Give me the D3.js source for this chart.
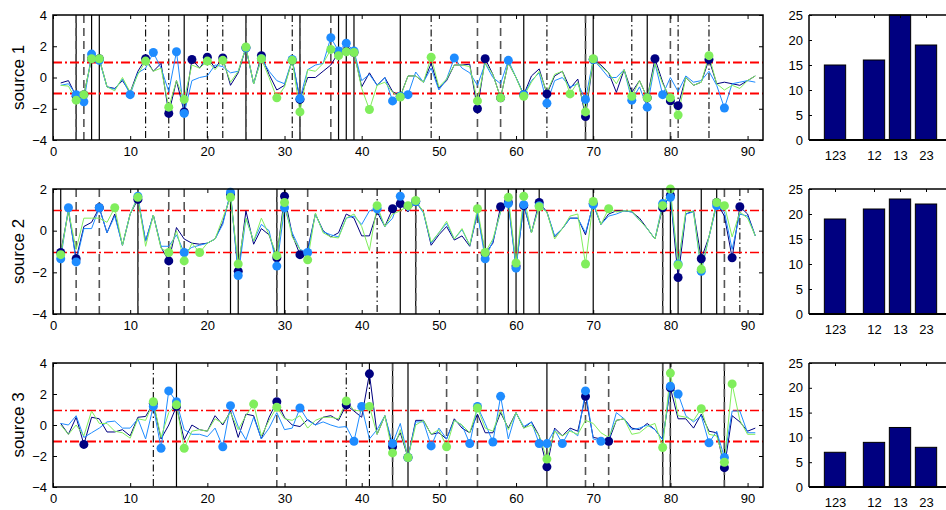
<!DOCTYPE html>
<html>
<head>
<meta charset="utf-8">
<script src="https://cdn.jsdelivr.net/npm/d3@7"></script>
<style>
body { margin: 0; background: #fff; }
svg { display: block; font-family: "Liberation Sans", Arial, sans-serif; }
</style>
</head>
<body>
<script>
const w = 946;
const h = 510;

// ---- data, x = 1..91 ----
const s1Dark = [-0.35,-0.2,-1.2,-1.1,1.2,1.2,-0.6,-0.7,-0.2,-0.95,0.4,1.2,0.4,0.9,-2.3,-0.2,-2.2,1.15,0.6,1.3,0.6,1.25,-0.5,0.3,1.9,-0.4,1.4,0.2,-0.8,-0.5,1.1,-1.4,0.0,0.0,0.4,0.8,1.6,1.7,1.6,-0.6,0.3,-0.5,0.0,-0.9,-1.2,0.1,0.1,-0.3,0.9,-0.7,-0.2,0.8,0.8,0.85,-2.0,1.2,0.2,-1.3,0.95,0.0,-1.1,0.1,0.55,-1.05,0.1,0.4,-0.7,-0.1,-2.5,1.15,0.8,0.3,-0.95,0.5,-0.95,-0.2,-1.3,1.2,-0.3,-1.5,-1.8,0.0,-0.5,-0.3,1.15,-0.4,-0.3,-0.4,-0.5,-0.2,0.1];
const s1Blue = [-0.5,-0.4,-1.1,-1.55,1.5,1.1,-0.6,-0.75,-0.1,-1.1,0.3,0.6,1.6,0.6,-0.9,1.65,-2.3,-0.2,0.0,0.1,0.8,0.7,0.3,0.4,1.9,-0.4,1.2,0.4,-0.2,-0.4,1.15,-1.35,0.5,0.8,0.9,2.55,1.7,2.2,1.7,-0.2,0.2,-0.5,0.0,-1.5,-1.2,-1.1,0.35,-0.3,0.6,-0.8,-0.1,1.25,0.6,0.3,-0.5,0.9,0.0,-0.4,1.1,0.0,-1.1,-0.2,0.3,-1.65,-0.2,0.0,-0.6,-0.4,-1.4,1.15,0.6,0.0,0.0,0.5,-1.45,-0.6,-1.9,0.9,-1.1,0.0,-0.9,0.1,-0.3,-0.2,0.4,-0.5,-1.95,-0.4,-0.3,-0.2,-0.3];
const s1Green = [-0.5,-0.55,-1.45,-1.1,1.2,1.2,-0.6,-0.85,0.0,-0.95,0.2,1.05,0.4,0.6,-1.9,-0.2,-1.4,0.8,0.6,1.05,0.5,1.1,-0.3,0.4,1.95,-0.4,1.2,0.0,-1.3,-0.6,1.1,-2.2,0.5,0.4,0.9,1.8,1.4,1.65,1.6,-0.7,-2.05,-0.5,-0.3,-0.95,-1.25,0.1,0.1,-0.3,1.3,-0.6,-0.1,0.8,0.8,0.7,-1.5,0.95,0.2,-1.3,0.95,0.0,-1.2,-0.3,0.4,-0.95,0.2,0.4,-1.05,-0.3,-2.2,1.2,0.7,0.3,-0.4,0.5,-1.2,-0.2,-1.3,0.9,-0.4,-1.3,-2.4,0.0,-0.5,-0.3,1.4,-0.4,-0.8,-0.5,-0.7,-0.2,0.1];

const s2Dark = [-1.05,0.95,-1.35,0.2,0.4,1.1,-0.1,0.8,-0.7,0.8,1.5,-0.5,0.75,-0.8,-1.45,0.15,-0.4,-0.6,-0.65,-0.6,-0.4,0.4,1.75,-1.95,0.95,-0.65,0.1,-0.2,-1.3,1.65,-0.2,-1.15,-0.9,0.8,0.0,-0.3,-0.1,0.8,0.6,-0.25,-0.25,0.9,0.2,1.05,1.3,0.9,1.4,0.9,-0.7,-0.2,0.2,-0.45,-0.25,-0.75,0.85,-1.1,-0.6,1.15,1.35,-1.7,1.2,-0.1,1.35,0.9,-0.3,0.1,0.6,0.6,-0.2,1.3,0.3,0.8,0.95,0.95,0.9,0.6,0.1,-0.4,1.1,1.7,-2.25,0.8,0.95,-1.35,-0.3,1.35,0.7,-1.3,1.15,0.8,-0.25];
const s2Blue = [-1.35,1.1,-1.5,0.1,0.1,1.1,-0.1,0.7,-0.7,0.8,1.65,-0.5,0.75,-0.75,-0.75,-0.2,-1.05,-0.8,-0.7,-0.6,-0.4,0.3,1.85,-2.15,0.6,-0.5,0.3,0.0,-1.7,1.1,-0.1,-0.9,-1.05,0.8,-0.05,-0.2,-0.3,0.6,0.7,0.3,0.95,1.05,0.2,0.6,1.65,0.95,1.4,0.85,-0.6,-0.1,0.35,-0.4,0.05,-0.7,0.85,-1.35,-0.5,0.9,1.3,-1.8,1.25,-0.1,1.2,0.9,-0.25,0.1,0.6,0.6,-0.1,1.25,0.3,0.7,0.8,0.95,0.9,0.5,0.1,-0.4,1.3,1.6,-1.6,0.8,0.9,-1.95,-0.3,1.2,0.9,-0.9,0.8,0.7,-0.25];
const s2Green = [-1.15,0.95,-0.9,0.6,0.6,0.6,0.4,1.1,-0.7,0.8,1.6,-0.75,0.75,-0.85,-1.05,0.0,-1.45,-0.6,-1.05,-0.6,-0.4,0.6,1.6,-1.6,0.6,-0.5,0.6,-0.2,-1.2,1.35,-0.3,-0.9,-1.4,0.85,-0.1,-0.3,-0.35,0.6,0.8,0.2,-0.95,1.2,0.2,0.8,0.95,1.2,1.45,0.9,-0.55,-0.1,0.45,-0.4,0.1,-0.7,1.05,-1.05,-0.4,0.9,1.6,-1.55,1.65,-0.1,1.15,0.9,-0.4,0.1,0.7,0.8,-1.6,1.4,0.3,1.05,0.9,0.95,0.95,0.5,0.1,-0.4,1.2,2.0,-1.65,0.95,0.9,-1.85,-0.3,1.35,1.2,-0.3,0.9,0.6,-0.25];

const s3Dark = [0.1,-0.6,0.5,-1.25,0.5,0.4,-0.45,-0.45,-0.3,-0.7,0.5,0.55,1.4,-0.9,0.0,1.2,-0.95,0.0,-0.3,-0.4,0.6,0.0,0.9,-0.8,0.7,0.6,-0.9,0.5,1.5,0.5,0.0,-0.1,0.35,0.0,0.5,0.6,0.3,1.3,0.9,0.5,3.3,-0.6,0.6,-1.4,-0.5,-2.1,0.3,0.3,-0.6,-0.5,-0.9,0.4,-0.2,-0.5,0.7,-0.5,-0.5,0.8,-0.2,0.8,-0.2,0.2,-0.7,-2.7,-0.2,-0.7,-0.2,-0.4,1.85,-0.8,-0.9,-1.05,0.3,0.4,-0.2,-0.3,0.1,-0.3,-0.95,2.4,0.4,0.4,-0.2,0.7,-0.4,-0.5,-2.75,0.6,0.2,-0.4,-0.2];
const s3Blue = [0.1,0.0,0.6,-0.8,-0.5,-0.2,0.2,0.25,-0.2,-0.2,0.4,-0.9,1.2,-1.5,2.2,1.5,-0.3,-0.6,-0.6,-0.75,-0.2,-1.4,1.25,-0.1,-0.95,0.5,-0.9,-0.2,0.8,-0.3,-0.2,1.1,0.3,0.0,0.2,0.0,-0.15,-0.1,-1.05,1.2,-0.9,-0.3,0.6,-1.2,0.1,-2.1,0.2,0.2,-1.35,-0.2,-0.9,0.3,0.0,-1.2,1.2,0.1,-1.1,1.85,-0.9,0.8,-0.1,0.2,-1.2,-1.2,-0.3,-1.2,-0.3,-0.7,2.2,-0.9,-1.05,-1.0,0.8,0.4,-0.3,-0.2,0.0,-0.3,-0.95,2.5,2.0,0.6,0.2,0.6,-1.15,-0.4,-2.1,0.9,0.9,-0.5,-0.5];
const s3Green = [0.0,-0.6,0.0,-0.7,0.9,0.1,0.1,-0.4,-0.5,-0.85,0.4,0.3,1.5,-0.8,0.8,1.3,-1.5,-0.4,-0.3,-0.4,0.4,0.1,0.8,-0.3,0.6,1.35,-0.7,0.3,1.15,0.4,0.3,0.6,-0.2,0.3,0.5,0.5,0.4,1.55,0.95,0.9,1.2,-0.6,0.6,-1.8,-0.3,-2.1,0.0,0.3,-0.6,-0.3,-1.4,0.3,0.0,-0.5,1.1,-0.2,-0.4,0.95,-0.3,0.8,-0.2,0.0,-0.7,-2.2,-0.4,-0.7,-0.4,-0.6,0.3,0.1,-0.5,-0.8,0.3,0.4,-0.6,-0.5,-0.1,0.1,-1.45,3.35,0.6,0.5,0.3,1.05,-0.6,-0.7,-2.4,2.65,0.3,-0.6,-0.6];

// vertical marker lines
const s1Solid = [3,5,6,17,25,27,32,37,38,39,45,61,69,70,77];
const s1DashDot = [12,15,20,22,31,49,64,75,81,85];
const s1Dashed = [3,4,25,32,36,55,58,69,80];
const s2Solid = [1,11,23,24,29,30,45,47,56,59,60,61,63,70,79,80,81,84,86];
const s2DashDot = [42,89];
const s2Dashed = [3,6,11,15,17,29,33,47,55,79,87];
const s3Solid = [16,44,46,64,79,80,87];
const s3DashDot = [13,38,41];
const s3Dashed = [29,44,51,55,69,72,79,80,87];

// bar charts
const barCats = ["123", "12", "13", "23"];
const barPos = [1, 2.5, 3.5, 4.5];
const s1Bars = [15, 16, 25, 19];
const s2Bars = [19, 21, 23, 22];
const s3Bars = [7, 9, 12, 8];

const xTicks = [0,10,20,30,40,50,60,70,80,90];
const barTicks = [0,5,10,15,20,25];

const colDark = "#000080", colBlue = "#1e8cff", colGreen = "#80ee5c";

const panels = [
  {name: "source 1", top: 15, bottom: 140, dom: [-4, 4], yt: [-4,-2,0,2,4], series: [s1Dark, s1Blue, s1Green],
   solid: s1Solid, dashdot: s1DashDot, dashed: s1Dashed, bars: s1Bars, redW: [2, 2]},
  {name: "source 2", top: 189, bottom: 314, dom: [-4, 2], yt: [-4,-2,0,2], series: [s2Dark, s2Blue, s2Green],
   solid: s2Solid, dashdot: s2DashDot, dashed: s2Dashed, bars: s2Bars, redW: [1.4, 1.4]},
  {name: "source 3", top: 363, bottom: 487, dom: [-4, 4], yt: [-4,-2,0,2,4], series: [s3Dark, s3Blue, s3Green],
   solid: s3Solid, dashdot: s3DashDot, dashed: s3Dashed, bars: s3Bars, redW: [1.4, 2]}
];

const svg = d3.select("body").append("svg")
  .attr("width", w)
  .attr("height", h);

const x = d3.scaleLinear().domain([0, 92]).range([53, 763]);
const xb = d3.scaleLinear().domain([0, 5.5]).range([809, 952]);

panels.forEach((p) => {
  const y = d3.scaleLinear().domain(p.dom).range([p.bottom, p.top]);
  const g = svg.append("g");

  // vertical lines
  p.solid.forEach((v) => {
    g.append("line").attr("x1", x(v)).attr("x2", x(v)).attr("y1", p.top).attr("y2", p.bottom)
      .attr("stroke", "#000").attr("stroke-width", 1.2);
  });
  p.dashdot.forEach((v) => {
    g.append("line").attr("x1", x(v)).attr("x2", x(v)).attr("y1", p.top).attr("y2", p.bottom)
      .attr("stroke", "#000").attr("stroke-width", 1.1).attr("stroke-dasharray", "7,3,1.5,3");
  });
  p.dashed.forEach((v) => {
    g.append("line").attr("x1", x(v)).attr("x2", x(v)).attr("y1", p.top).attr("y2", p.bottom)
      .attr("stroke", "#555").attr("stroke-width", 1.6).attr("stroke-dasharray", "8,5");
  });

  // thresholds
  [1, -1].forEach((t, i) => {
    g.append("line").attr("x1", x(0)).attr("x2", x(92)).attr("y1", Math.round(y(t)) + 0.5).attr("y2", Math.round(y(t)) + 0.5)
      .attr("stroke", "#f00").attr("stroke-width", p.redW[i]).attr("stroke-dasharray", "9,3,2,3");
  });

  const line = d3.line().x((d, i) => x(i + 1)).y((d) => y(d));
  const cols = [colDark, colBlue, colGreen];
  p.series.forEach((s, k) => {
    g.append("path").datum(s).attr("d", line)
      .attr("fill", "none").attr("stroke", cols[k]).attr("stroke-width", 1);
  });
  p.series.forEach((s, k) => {
    g.selectAll(null).data(s.map((v, i) => ({i: i + 1, v: v})).filter((d) => Math.abs(d.v) > 1))
      .enter().append("circle")
      .attr("cx", (d) => x(d.i)).attr("cy", (d) => y(d.v)).attr("r", 4.5)
      .attr("fill", cols[k]);
  });

  // axes, ticks inward
  g.append("g").attr("transform", "translate(0," + p.bottom + ")")
    .call(d3.axisBottom(x).tickValues(xTicks).tickSize(-4).tickPadding(7));
  g.append("g").attr("transform", "translate(0," + p.top + ")")
    .call(d3.axisTop(x).tickValues(xTicks).tickSize(-4).tickFormat(""));
  g.append("g").attr("transform", "translate(53,0)")
    .call(d3.axisLeft(y).tickValues(p.yt).tickSize(-4).tickPadding(6).tickFormat(d3.format("d")));
  g.append("g").attr("transform", "translate(763,0)")
    .call(d3.axisRight(y).tickValues(p.yt).tickSize(-4).tickFormat(""));
  g.append("rect").attr("x", 53).attr("y", p.top).attr("width", 710).attr("height", p.bottom - p.top)
    .attr("fill", "none").attr("stroke", "#000").attr("stroke-width", 1.5);

  g.append("text").text(p.name)
    .attr("transform", "translate(24," + (p.top + p.bottom) / 2 + ") rotate(-90)")
    .attr("text-anchor", "middle").attr("font-size", 17);

  // bar chart
  const yb = d3.scaleLinear().domain([0, 25]).range([p.bottom, p.top]);
  const bw = xb(0.82) - xb(0);
  g.selectAll(null).data(p.bars).enter().append("rect")
    .attr("x", (d, i) => xb(barPos[i]) - bw / 2)
    .attr("y", (d) => yb(d))
    .attr("width", bw)
    .attr("height", (d) => yb(0) - yb(d))
    .attr("fill", "#000080").attr("stroke", "#000").attr("stroke-width", 1);
  g.append("g").attr("transform", "translate(0," + p.bottom + ")")
    .call(d3.axisBottom(xb).tickValues(barPos).tickSize(0).tickPadding(11)
      .tickFormat((d, i) => barCats[i]));
  g.append("g").attr("transform", "translate(0," + p.top + ")")
    .call(d3.axisTop(xb).tickValues(barPos).tickSize(-3).tickFormat(""));
  g.append("g").attr("transform", "translate(809,0)")
    .call(d3.axisLeft(yb).tickValues(barTicks).tickSize(-3).tickPadding(6));
  g.append("line").attr("x1", 809).attr("x2", 946).attr("y1", p.top).attr("y2", p.top)
    .attr("stroke", "#000").attr("stroke-width", 1.5);
  g.append("line").attr("x1", 809).attr("x2", 946).attr("y1", p.bottom).attr("y2", p.bottom)
    .attr("stroke", "#000").attr("stroke-width", 2);
  g.append("line").attr("x1", 809).attr("x2", 809).attr("y1", p.top).attr("y2", p.bottom)
    .attr("stroke", "#000").attr("stroke-width", 1.5);
});

svg.selectAll(".domain").remove();
svg.selectAll(".tick text").attr("font-size", 13).attr("fill", "#000")
  .attr("font-family", "'Liberation Sans', Arial, sans-serif");
</script>
</body>
</html>
